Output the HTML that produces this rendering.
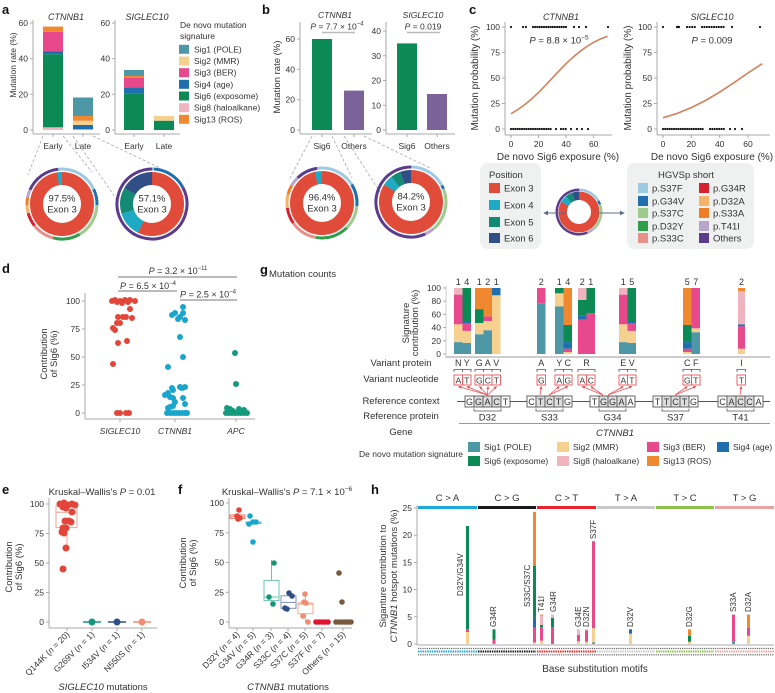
<!DOCTYPE html>
<html><head><meta charset="utf-8">
<style>
html,body{margin:0;padding:0;background:#fff;}
svg{display:block;}
text{font-family:"Liberation Sans",Arial,sans-serif;fill:#333;}
.pl{font-size:13px;font-weight:bold;fill:#111;}
.tk{font-size:8.5px;fill:#555;}
.ax{font-size:9.5px;fill:#333;}
.it{font-style:italic;}
.lg{font-size:8.5px;fill:#333;}
.ln{stroke:#aaa;stroke-width:1;fill:none;}
.dl{stroke:#aaa;stroke-width:0.8;stroke-dasharray:3 2;fill:none;}
.nb{font-size:8px;}
</style></head>
<body>
<svg width="775" height="693" viewBox="0 0 775 693" xmlns="http://www.w3.org/2000/svg">
<defs>
<marker id="ar" viewBox="0 0 6 6" refX="5" refY="3" markerWidth="4" markerHeight="4" orient="auto"><path d="M0,0 L6,3 L0,6 z" fill="#e8545a"/></marker>
<marker id="ab" viewBox="0 0 6 6" refX="5" refY="3" markerWidth="5" markerHeight="5" orient="auto"><path d="M0,0 L6,3 L0,6 z" fill="#5b6f8a"/></marker>
</defs>

<!-- ================= PANEL A ================= -->
<text class="pl" x="2" y="14">a</text>
<text class="it" x="66" y="20" font-size="9" text-anchor="middle">CTNNB1</text>
<text class="it" x="147" y="20" font-size="9" text-anchor="middle">SIGLEC10</text>
<text x="16" y="65" font-size="8.5" text-anchor="middle" transform="rotate(-90 16 65)">Mutation rate (%)</text>
<line class="ln" x1="33" y1="20" x2="33" y2="134"/>
<line class="ln" x1="33" y1="134" x2="100" y2="134"/>
<g class="ln"><line x1="30" y1="23" x2="33" y2="23"/><line x1="30" y1="58.7" x2="33" y2="58.7"/><line x1="30" y1="94.3" x2="33" y2="94.3"/><line x1="30" y1="130" x2="33" y2="130"/><line x1="53" y1="134" x2="53" y2="137"/><line x1="83" y1="134" x2="83" y2="137"/></g>
<g class="tk" text-anchor="end"><text x="28" y="26">60</text><text x="28" y="61.7">40</text><text x="28" y="97.3">20</text><text x="28" y="133">0</text></g>
<rect x="43" y="127.3" width="20" height="2.7" fill="#f0b4bf"/>
<rect x="43" y="54.2" width="20" height="73.1" fill="#0b8a56"/>
<rect x="43" y="51.5" width="20" height="2.7" fill="#1f6fae"/>
<rect x="43" y="31.9" width="20" height="19.6" fill="#e8488c"/>
<rect x="43" y="26.6" width="20" height="5.3" fill="#f0882f"/>
<rect x="73" y="125" width="20" height="4.5" fill="#1f6fae"/>
<rect x="73" y="120.7" width="20" height="4.3" fill="#f6d08f"/>
<rect x="73" y="116" width="20" height="4.7" fill="#f0882f"/>
<rect x="73" y="97.5" width="20" height="18.5" fill="#4e97a6"/>
<g class="tk" font-size="8.5" text-anchor="middle"><text x="53" y="149">Early</text><text x="83" y="149">Late</text></g>
<line class="ln" x1="115" y1="20" x2="115" y2="134"/>
<line class="ln" x1="115" y1="134" x2="180" y2="134"/>
<g class="ln"><line x1="112" y1="23" x2="115" y2="23"/><line x1="112" y1="58.7" x2="115" y2="58.7"/><line x1="112" y1="94.3" x2="115" y2="94.3"/><line x1="112" y1="130" x2="115" y2="130"/><line x1="134" y1="134" x2="134" y2="137"/><line x1="164" y1="134" x2="164" y2="137"/></g>
<g class="tk" text-anchor="end"><text x="110" y="26">60</text><text x="110" y="61.7">40</text><text x="110" y="97.3">20</text><text x="110" y="133">0</text></g>
<rect x="124" y="93.3" width="20" height="36.7" fill="#0b8a56"/>
<rect x="124" y="87.3" width="20" height="6" fill="#1f6fae"/>
<rect x="124" y="78" width="20" height="9.3" fill="#e8488c"/>
<rect x="124" y="76" width="20" height="2" fill="#f0882f"/>
<rect x="124" y="70" width="20" height="6" fill="#4e97a6"/>
<rect x="154" y="120.7" width="20" height="9.3" fill="#0b8a56"/>
<rect x="154" y="116" width="20" height="4.7" fill="#f6d08f"/>
<g class="tk" font-size="8.5" text-anchor="middle"><text x="134" y="149">Early</text><text x="164" y="149">Late</text></g>
<text class="lg" x="180" y="28">De novo mutation</text>
<text class="lg" x="180" y="39">signature</text>
<rect x="179" y="44.8" width="10" height="9" fill="#4e97a6"/><text class="lg" x="194" y="52.3">Sig1 (POLE)</text>
<rect x="179" y="56.5" width="10" height="9" fill="#f6d08f"/><text class="lg" x="194" y="64">Sig2 (MMR)</text>
<rect x="179" y="68.2" width="10" height="9" fill="#e8488c"/><text class="lg" x="194" y="75.7">Sig3 (BER)</text>
<rect x="179" y="79.8" width="10" height="9" fill="#1f6fae"/><text class="lg" x="194" y="87.3">Sig4 (age)</text>
<rect x="179" y="91.5" width="10" height="9" fill="#0b8a56"/><text class="lg" x="194" y="99">Sig6 (exposome)</text>
<rect x="179" y="103.2" width="10" height="9" fill="#f0b4bf"/><text class="lg" x="194" y="110.7">Sig8 (haloalkane)</text>
<rect x="179" y="114.8" width="10" height="9" fill="#f0882f"/><text class="lg" x="194" y="122.3">Sig13 (ROS)</text>
<line class="dl" x1="43" y1="136" x2="28" y2="175"/>
<line class="dl" x1="63" y1="136" x2="92" y2="172"/>
<line class="dl" x1="73" y1="136" x2="117" y2="200"/>
<line class="dl" x1="93" y1="136" x2="160" y2="168"/>
<!-- donut a left -->
<g fill="none">
<circle cx="62" cy="204" r="25.5" stroke="#e04b3a" stroke-width="13" stroke-dasharray="156.2 400" transform="rotate(-90 62 204)"/>
<circle cx="62" cy="204" r="25.5" stroke="#1eaac4" stroke-width="13" stroke-dasharray="4.0 400" transform="rotate(261 62 204)"/>
<g stroke-width="3">
<circle cx="62" cy="204" r="35" stroke="#9ecae1" stroke-dasharray="39.7 400" transform="rotate(-90 62 204)"/>
<circle cx="62" cy="204" r="35" stroke="#1f6fae" stroke-dasharray="16.5 400" transform="rotate(-25 62 204)"/>
<circle cx="62" cy="204" r="35" stroke="#9ccc8c" stroke-dasharray="35.4 400" transform="rotate(2 62 204)"/>
<circle cx="62" cy="204" r="35" stroke="#2e9e48" stroke-dasharray="27.5 400" transform="rotate(60 62 204)"/>
<circle cx="62" cy="204" r="35" stroke="#e8908a" stroke-dasharray="22.6 400" transform="rotate(105 62 204)"/>
<circle cx="62" cy="204" r="35" stroke="#d62230" stroke-dasharray="14.05 400" transform="rotate(142 62 204)"/>
<circle cx="62" cy="204" r="35" stroke="#f4b26b" stroke-dasharray="7.94 400" transform="rotate(165 62 204)"/>
<circle cx="62" cy="204" r="35" stroke="#ef7d28" stroke-dasharray="7.94 400" transform="rotate(178 62 204)"/>
<circle cx="62" cy="204" r="35" stroke="#b8a5cc" stroke-dasharray="7.94 400" transform="rotate(191 62 204)"/>
<circle cx="62" cy="204" r="35" stroke="#5b3b8c" stroke-dasharray="36.65 400" transform="rotate(204 62 204)"/>
<circle cx="62" cy="204" r="35" stroke="#9ecae1" stroke-dasharray="3.67 400" transform="rotate(264 62 204)"/>
</g></g>
<text x="62" y="201.5" font-size="9.5" text-anchor="middle">97.5%</text>
<text x="62" y="212.5" font-size="9.5" text-anchor="middle">Exon 3</text>
<!-- donut a right -->
<g fill="none">
<circle cx="152" cy="204" r="25.5" stroke="#e04b3a" stroke-width="13" stroke-dasharray="91.68 400" transform="rotate(-90 152 204)"/>
<circle cx="152" cy="204" r="25.5" stroke="#1eaac4" stroke-width="13" stroke-dasharray="20.47 400" transform="rotate(116 152 204)"/>
<circle cx="152" cy="204" r="25.5" stroke="#138a73" stroke-width="13" stroke-dasharray="21.36 400" transform="rotate(162 152 204)"/>
<circle cx="152" cy="204" r="25.5" stroke="#2f4f86" stroke-width="13" stroke-dasharray="26.7 400" transform="rotate(210 152 204)"/>
<g stroke-width="3">
<circle cx="152" cy="204" r="35" stroke="#9ecae1" stroke-dasharray="1.83 400" transform="rotate(-90 152 204)"/>
<circle cx="152" cy="204" r="35" stroke="#1f6fae" stroke-dasharray="36.04 400" transform="rotate(-87 152 204)"/>
<circle cx="152" cy="204" r="35" stroke="#5b3b8c" stroke-dasharray="182.04 400" transform="rotate(-28 152 204)"/>
</g></g>
<text x="152" y="201.5" font-size="9.5" text-anchor="middle">57.1%</text>
<text x="152" y="212.5" font-size="9.5" text-anchor="middle">Exon 3</text>

<!-- ================= PANEL B ================= -->
<text class="pl" x="262" y="14">b</text>
<text x="280" y="77" font-size="9.5" text-anchor="middle" transform="rotate(-90 280 77)">Mutation rate (%)</text>
<text class="it" x="335" y="18" font-size="8.5" text-anchor="middle">CTNNB1</text>
<text x="337" y="29.5" font-size="8.5" text-anchor="middle"><tspan font-style="italic">P</tspan> = 7.7 × 10<tspan dy="-4" font-size="6">−4</tspan></text>
<line x1="322" y1="32.5" x2="355" y2="32.5" stroke="#bbb" stroke-width="1.5"/>
<text class="it" x="423" y="18" font-size="8.5" text-anchor="middle">SIGLEC10</text>
<text x="423" y="29.5" font-size="8.5" text-anchor="middle"><tspan font-style="italic">P</tspan> = 0.019</text>
<line x1="407" y1="32.5" x2="440" y2="32.5" stroke="#bbb" stroke-width="1.5"/>
<line class="ln" x1="300" y1="22" x2="300" y2="134"/>
<line class="ln" x1="300" y1="134" x2="372" y2="134"/>
<g class="ln"><line x1="297" y1="39" x2="300" y2="39"/><line x1="297" y1="69.3" x2="300" y2="69.3"/><line x1="297" y1="99.7" x2="300" y2="99.7"/><line x1="297" y1="130" x2="300" y2="130"/><line x1="322" y1="134" x2="322" y2="137"/><line x1="354" y1="134" x2="354" y2="137"/></g>
<g class="tk" text-anchor="end" font-size="9"><text x="295" y="42">60</text><text x="295" y="72.3">40</text><text x="295" y="102.7">20</text><text x="295" y="133">0</text></g>
<rect x="312" y="39" width="20" height="91" fill="#0b8a56"/>
<rect x="344" y="90.6" width="20" height="39.4" fill="#7b639a"/>
<g class="tk" font-size="9" text-anchor="middle"><text x="322" y="149">Sig6</text><text x="354" y="149">Others</text></g>
<line class="ln" x1="386" y1="22" x2="386" y2="134"/>
<line class="ln" x1="386" y1="134" x2="455" y2="134"/>
<g class="ln"><line x1="383" y1="31" x2="386" y2="31"/><line x1="383" y1="55.75" x2="386" y2="55.75"/><line x1="383" y1="80.5" x2="386" y2="80.5"/><line x1="383" y1="105.25" x2="386" y2="105.25"/><line x1="383" y1="130" x2="386" y2="130"/><line x1="407" y1="134" x2="407" y2="137"/><line x1="437" y1="134" x2="437" y2="137"/></g>
<g class="tk" text-anchor="end" font-size="9"><text x="381" y="34">40</text><text x="381" y="58.75">30</text><text x="381" y="83.5">20</text><text x="381" y="108.25">10</text><text x="381" y="133">0</text></g>
<rect x="397" y="43.4" width="20" height="86.6" fill="#0b8a56"/>
<rect x="427" y="94" width="20" height="36" fill="#7b639a"/>
<g class="tk" font-size="9" text-anchor="middle"><text x="407" y="149">Sig6</text><text x="437" y="149">Others</text></g>
<line class="dl" x1="312" y1="136" x2="289" y2="180"/>
<line class="dl" x1="332" y1="136" x2="352" y2="178"/>
<line class="dl" x1="344" y1="136" x2="380" y2="192"/>
<line class="dl" x1="364" y1="136" x2="430" y2="168"/>
<!-- donut b left -->
<g fill="none">
<circle cx="322" cy="203" r="25.5" stroke="#e04b3a" stroke-width="13" stroke-dasharray="154.44 400" transform="rotate(-90 322 203)"/>
<circle cx="322" cy="203" r="25.5" stroke="#1eaac4" stroke-width="13" stroke-dasharray="5.79 400" transform="rotate(257 322 203)"/>
<g stroke-width="3">
<circle cx="322" cy="203" r="35" stroke="#9ecae1" stroke-dasharray="35.43 400" transform="rotate(-90 322 203)"/>
<circle cx="322" cy="203" r="35" stroke="#1f6fae" stroke-dasharray="22.6 400" transform="rotate(-32 322 203)"/>
<circle cx="322" cy="203" r="35" stroke="#9ccc8c" stroke-dasharray="24.43 400" transform="rotate(5 322 203)"/>
<circle cx="322" cy="203" r="35" stroke="#2e9e48" stroke-dasharray="33.6 400" transform="rotate(45 322 203)"/>
<circle cx="322" cy="203" r="35" stroke="#e8908a" stroke-dasharray="27.49 400" transform="rotate(100 322 203)"/>
<circle cx="322" cy="203" r="35" stroke="#d62230" stroke-dasharray="16.49 400" transform="rotate(145 322 203)"/>
<circle cx="322" cy="203" r="35" stroke="#f4b26b" stroke-dasharray="13.44 400" transform="rotate(172 322 203)"/>
<circle cx="322" cy="203" r="35" stroke="#ef7d28" stroke-dasharray="9.77 400" transform="rotate(194 322 203)"/>
<circle cx="322" cy="203" r="35" stroke="#b8a5cc" stroke-dasharray="9.77 400" transform="rotate(210 322 203)"/>
<circle cx="322" cy="203" r="35" stroke="#5b3b8c" stroke-dasharray="21.99 400" transform="rotate(226 322 203)"/>
<circle cx="322" cy="203" r="35" stroke="#9ecae1" stroke-dasharray="4.89 400" transform="rotate(262 322 203)"/>
</g></g>
<text x="322" y="200.5" font-size="9.5" text-anchor="middle">96.4%</text>
<text x="322" y="211.5" font-size="9.5" text-anchor="middle">Exon 3</text>
<!-- donut b right -->
<g fill="none">
<circle cx="411" cy="202" r="25.5" stroke="#e04b3a" stroke-width="13" stroke-dasharray="134.85 400" transform="rotate(-90 411 202)"/>
<circle cx="411" cy="202" r="25.5" stroke="#1eaac4" stroke-width="13" stroke-dasharray="8.46 400" transform="rotate(213 411 202)"/>
<circle cx="411" cy="202" r="25.5" stroke="#138a73" stroke-width="13" stroke-dasharray="8.01 400" transform="rotate(232 411 202)"/>
<circle cx="411" cy="202" r="25.5" stroke="#2f4f86" stroke-width="13" stroke-dasharray="8.9 400" transform="rotate(250 411 202)"/>
<g stroke-width="3">
<circle cx="411" cy="202" r="35" stroke="#9ecae1" stroke-dasharray="37.87 400" transform="rotate(-90 411 202)"/>
<circle cx="411" cy="202" r="35" stroke="#1f6fae" stroke-dasharray="3.67 400" transform="rotate(-28 411 202)"/>
<circle cx="411" cy="202" r="35" stroke="#9ccc8c" stroke-dasharray="43.98 400" transform="rotate(-22 411 202)"/>
<circle cx="411" cy="202" r="35" stroke="#b8a5cc" stroke-dasharray="9.77 400" transform="rotate(50 411 202)"/>
<circle cx="411" cy="202" r="35" stroke="#5b3b8c" stroke-dasharray="124.62 400" transform="rotate(66 411 202)"/>
</g></g>
<text x="411" y="199.5" font-size="9.5" text-anchor="middle">84.2%</text>
<text x="411" y="210.5" font-size="9.5" text-anchor="middle">Exon 3</text>

<!-- ================= PANEL C ================= -->
<text class="pl" x="469" y="14">c</text>
<text x="478" y="78" font-size="10" text-anchor="middle" transform="rotate(-90 478 78)">Mutation probability (%)</text>
<text class="it" x="561" y="20" font-size="9" text-anchor="middle">CTNNB1</text>
<text x="559" y="43.5" font-size="9.5" text-anchor="middle"><tspan font-style="italic">P</tspan> = 8.8 × 10<tspan dy="-4" font-size="6.5">−5</tspan></text>
<line class="ln" x1="505" y1="22" x2="505" y2="135"/>
<line class="ln" x1="505" y1="135" x2="612" y2="135"/>
<g class="ln"><line x1="502" y1="27" x2="505" y2="27"/><line x1="502" y1="52.5" x2="505" y2="52.5"/><line x1="502" y1="78" x2="505" y2="78"/><line x1="502" y1="103.5" x2="505" y2="103.5"/><line x1="502" y1="129" x2="505" y2="129"/>
<line x1="511" y1="135" x2="511" y2="138"/><line x1="538.6" y1="135" x2="538.6" y2="138"/><line x1="566.1" y1="135" x2="566.1" y2="138"/><line x1="593.7" y1="135" x2="593.7" y2="138"/></g>
<g class="tk" font-size="9" text-anchor="end"><text x="500" y="30">100</text><text x="500" y="55.5">75</text><text x="500" y="81">50</text><text x="500" y="106.5">25</text><text x="500" y="132">0</text></g>
<g class="tk" font-size="9" text-anchor="middle"><text x="511" y="147">0</text><text x="538.6" y="147">20</text><text x="566.1" y="147">40</text><text x="593.7" y="147">60</text></g>
<text x="558" y="160" font-size="10" text-anchor="middle">De novo Sig6 exposure (%)</text>
<g stroke="#111" stroke-width="2.2" stroke-linecap="round">
<line x1="511" y1="27" x2="511" y2="27"/><line x1="523" y1="27" x2="523" y2="27"/><line x1="526" y1="27" x2="526" y2="27"/>
<line x1="533" y1="27" x2="567" y2="27" stroke-dasharray="0 2.2"/>
<line x1="574" y1="27" x2="574" y2="27"/><line x1="579" y1="27" x2="579" y2="27"/><line x1="586" y1="27" x2="586" y2="27"/><line x1="608" y1="27" x2="608" y2="27"/>
<line x1="511" y1="129" x2="552" y2="129" stroke-dasharray="0 2.2"/>
<line x1="556" y1="129" x2="556" y2="129"/><line x1="561" y1="129" x2="568" y2="129" stroke-dasharray="0 2.4"/><line x1="571" y1="129" x2="571" y2="129"/><line x1="577" y1="129" x2="577" y2="129"/><line x1="582" y1="129" x2="582" y2="129"/><line x1="588" y1="129" x2="588" y2="129"/>
</g>
<polyline fill="none" stroke="#d4805a" stroke-width="1.6" points="511,113.7 517.9,109.5 524.8,104.6 531.7,98.8 538.6,92.4 545.5,85.3 552.3,78 559.2,70.7 566.1,63.7 573,57.2 579.9,51.5 586.8,46.5 593.7,42.3 600.6,38.9 607.5,36.2"/>
<text x="631" y="78" font-size="10" text-anchor="middle" transform="rotate(-90 631 78)">Mutation probability (%)</text>
<text class="it" x="712" y="20" font-size="9" text-anchor="middle">SIGLEC10</text>
<text x="712" y="43.5" font-size="9.5" text-anchor="middle"><tspan font-style="italic">P</tspan> = 0.009</text>
<line class="ln" x1="657" y1="22" x2="657" y2="135"/>
<line class="ln" x1="657" y1="135" x2="770" y2="135"/>
<g class="ln"><line x1="654" y1="27" x2="657" y2="27"/><line x1="654" y1="52.5" x2="657" y2="52.5"/><line x1="654" y1="78" x2="657" y2="78"/><line x1="654" y1="103.5" x2="657" y2="103.5"/><line x1="654" y1="129" x2="657" y2="129"/>
<line x1="663" y1="135" x2="663" y2="138"/><line x1="691.3" y1="135" x2="691.3" y2="138"/><line x1="719.7" y1="135" x2="719.7" y2="138"/><line x1="748" y1="135" x2="748" y2="138"/></g>
<g class="tk" font-size="9" text-anchor="end"><text x="652" y="30">100</text><text x="652" y="55.5">75</text><text x="652" y="81">50</text><text x="652" y="106.5">25</text><text x="652" y="132">0</text></g>
<g class="tk" font-size="9" text-anchor="middle"><text x="663" y="147">0</text><text x="691.3" y="147">20</text><text x="719.7" y="147">40</text><text x="748" y="147">60</text></g>
<text x="712" y="160" font-size="10" text-anchor="middle">De novo Sig6 exposure (%)</text>
<g stroke="#111" stroke-width="2.2" stroke-linecap="round">
<line x1="663" y1="27" x2="663" y2="27"/><line x1="677" y1="27" x2="679" y2="27"/><line x1="687" y1="27" x2="695" y2="27" stroke-dasharray="0 2.6"/>
<line x1="702" y1="27" x2="724" y2="27" stroke-dasharray="0 2.4"/><line x1="732" y1="27" x2="732" y2="27"/><line x1="760" y1="27" x2="760" y2="27"/>
<line x1="663" y1="129" x2="703" y2="129" stroke-dasharray="0 2.2"/>
<line x1="710" y1="129" x2="724" y2="129" stroke-dasharray="0 2.3"/><line x1="730" y1="129" x2="730" y2="129"/><line x1="735" y1="129" x2="735" y2="129"/><line x1="742" y1="129" x2="742" y2="129"/>
</g>
<polyline fill="none" stroke="#d4805a" stroke-width="1.6" points="663,117.8 677.2,113.4 691.3,107.6 705.5,100.5 719.7,92.1 733.9,82.7 748,73 762.2,63.7"/>
<rect x="480" y="163" width="61" height="86" rx="8" fill="#eef1f0"/>
<text x="489" y="178" font-size="9.5">Position</text>
<rect x="489" y="183" width="11" height="10" fill="#e04b3a"/><text x="504" y="191.5" font-size="9.5">Exon 3</text>
<rect x="489" y="200" width="11" height="10" fill="#1eaac4"/><text x="504" y="208.5" font-size="9.5">Exon 4</text>
<rect x="489" y="217" width="11" height="10" fill="#138a73"/><text x="504" y="225.5" font-size="9.5">Exon 5</text>
<rect x="489" y="233" width="11" height="10" fill="#2f4f86"/><text x="504" y="241.5" font-size="9.5">Exon 6</text>
<rect x="627" y="163" width="127" height="86" rx="8" fill="#eef1f0"/>
<text x="686" y="178" font-size="9.5" text-anchor="middle">HGVSp short</text>
<g font-size="9.5">
<rect x="638" y="183" width="10" height="10" fill="#9ecae1"/><text x="652" y="191.5">p.S37F</text>
<rect x="638" y="196" width="10" height="10" fill="#1f6fae"/><text x="652" y="204.5">p.G34V</text>
<rect x="638" y="208" width="10" height="10" fill="#9ccc8c"/><text x="652" y="216.5">p.S37C</text>
<rect x="638" y="221" width="10" height="10" fill="#2e9e48"/><text x="652" y="229.5">p.D32Y</text>
<rect x="638" y="233" width="10" height="10" fill="#e8908a"/><text x="652" y="241.5">p.S33C</text>
<rect x="699" y="183" width="10" height="10" fill="#d62230"/><text x="713" y="191.5">p.G34R</text>
<rect x="699" y="196" width="10" height="10" fill="#f4b26b"/><text x="713" y="204.5">p.D32A</text>
<rect x="699" y="208" width="10" height="10" fill="#ef7d28"/><text x="713" y="216.5">p.S33A</text>
<rect x="699" y="221" width="10" height="10" fill="#b8a5cc"/><text x="713" y="229.5">p.T41I</text>
<rect x="699" y="233" width="10" height="10" fill="#5b3b8c"/><text x="713" y="241.5">Others</text>
</g>
<g fill="none">
<circle cx="579" cy="212" r="16.25" stroke="#e04b3a" stroke-width="8.5" stroke-dasharray="85.09 200" transform="rotate(-90 579 212)"/>
<circle cx="579" cy="212" r="16.25" stroke="#1eaac4" stroke-width="8.5" stroke-dasharray="5.67 200" transform="rotate(210 579 212)"/>
<circle cx="579" cy="212" r="16.25" stroke="#138a73" stroke-width="8.5" stroke-dasharray="5.67 200" transform="rotate(230 579 212)"/>
<circle cx="579" cy="212" r="16.25" stroke="#2f4f86" stroke-width="8.5" stroke-dasharray="5.67 200" transform="rotate(250 579 212)"/>
<g stroke-width="2.5">
<circle cx="579" cy="212" r="22.25" stroke="#9ecae1" stroke-dasharray="23.3 200" transform="rotate(-90 579 212)"/>
<circle cx="579" cy="212" r="22.25" stroke="#1f6fae" stroke-dasharray="3.88 200" transform="rotate(-30 579 212)"/>
<circle cx="579" cy="212" r="22.25" stroke="#9ccc8c" stroke-dasharray="27.18 200" transform="rotate(-20 579 212)"/>
<circle cx="579" cy="212" r="22.25" stroke="#b8a5cc" stroke-dasharray="6.99 200" transform="rotate(50 579 212)"/>
<circle cx="579" cy="212" r="22.25" stroke="#5b3b8c" stroke-dasharray="78.44 200" transform="rotate(68 579 212)"/>
</g></g>
<line x1="567" y1="213" x2="544" y2="213" stroke="#5b6f8a" stroke-width="1" marker-end="url(#ab)"/>
<line x1="598" y1="213" x2="624" y2="213" stroke="#5b6f8a" stroke-width="1" marker-end="url(#ab)"/>

<!-- ================= PANEL D ================= -->
<text class="pl" x="2" y="273">d</text>
<text x="178" y="274" font-size="9" text-anchor="middle"><tspan font-style="italic">P</tspan> = 3.2 × 10<tspan dy="-4" font-size="6">−11</tspan></text>
<line x1="118" y1="277" x2="237" y2="277" stroke="#777" stroke-width="1"/>
<text x="148" y="289" font-size="9" text-anchor="middle"><tspan font-style="italic">P</tspan> = 6.5 × 10<tspan dy="-4" font-size="6">−4</tspan></text>
<line x1="118" y1="291" x2="177" y2="291" stroke="#777" stroke-width="1"/>
<text x="208" y="297.5" font-size="9" text-anchor="middle"><tspan font-style="italic">P</tspan> = 2.5 × 10<tspan dy="-4" font-size="6">−4</tspan></text>
<line x1="180" y1="300" x2="237" y2="300" stroke="#777" stroke-width="1"/>
<text x="47" y="354" font-size="9.5" text-anchor="middle" transform="rotate(-90 47 354)">Contribution</text>
<text x="57" y="354" font-size="9.5" text-anchor="middle" transform="rotate(-90 57 354)">of Sig6 (%)</text>
<line class="ln" x1="85" y1="293" x2="85" y2="419"/>
<line class="ln" x1="85" y1="419" x2="255" y2="419"/>
<g class="ln"><line x1="82" y1="301" x2="85" y2="301"/><line x1="82" y1="329" x2="85" y2="329"/><line x1="82" y1="357" x2="85" y2="357"/><line x1="82" y1="385" x2="85" y2="385"/><line x1="82" y1="413" x2="85" y2="413"/>
<line x1="120" y1="419" x2="120" y2="422"/><line x1="175" y1="419" x2="175" y2="422"/><line x1="236" y1="419" x2="236" y2="422"/></g>
<g class="tk" font-size="9" text-anchor="end"><text x="80" y="304">100</text><text x="80" y="332">75</text><text x="80" y="360">50</text><text x="80" y="388">25</text><text x="80" y="416">0</text></g>
<g class="tk it" font-size="8.5" text-anchor="middle"><text x="120" y="434">SIGLEC10</text><text x="175" y="434">CTNNB1</text><text x="236" y="434">APC</text></g>
<g fill="#e2463a">
<circle cx="112" cy="301" r="3"/><circle cx="115" cy="300" r="3"/><circle cx="120" cy="301" r="3"/><circle cx="125" cy="300" r="3"/><circle cx="130" cy="300" r="3"/><circle cx="135" cy="301" r="3"/><circle cx="117" cy="302" r="3"/><circle cx="128" cy="302" r="3"/><circle cx="122" cy="303" r="3"/><circle cx="130" cy="309" r="3"/><circle cx="118" cy="317" r="3"/><circle cx="123" cy="317" r="3"/><circle cx="126" cy="317" r="3"/><circle cx="132" cy="318" r="3"/><circle cx="117" cy="323" r="3"/><circle cx="120" cy="323" r="3"/><circle cx="113" cy="328" r="3"/><circle cx="115" cy="330" r="3"/><circle cx="127" cy="341" r="3"/><circle cx="118" cy="343" r="3"/><circle cx="113" cy="364" r="3"/><circle cx="117" cy="413" r="3"/><circle cx="120" cy="413" r="3"/><circle cx="126" cy="413" r="3"/><circle cx="129" cy="413" r="3"/>
</g>
<g fill="#1aa6cc">
<circle cx="183" cy="307" r="3"/><circle cx="175" cy="313" r="3"/><circle cx="172" cy="315" r="3"/><circle cx="183" cy="313" r="3"/><circle cx="180" cy="317" r="3"/><circle cx="178" cy="319" r="3"/><circle cx="185" cy="320" r="3"/><circle cx="180" cy="337" r="3"/><circle cx="183" cy="357" r="3"/><circle cx="168" cy="367" r="3"/><circle cx="180" cy="387" r="3"/><circle cx="182" cy="388" r="3"/><circle cx="172" cy="388" r="3"/><circle cx="173" cy="390" r="3"/><circle cx="185" cy="387" r="3"/><circle cx="165" cy="395" r="3"/><circle cx="168" cy="393" r="3"/><circle cx="170" cy="397" r="3"/><circle cx="173" cy="398" r="3"/><circle cx="175" cy="402" r="3"/><circle cx="183" cy="398" r="3"/><circle cx="173" cy="406" r="3"/><circle cx="185" cy="404" r="3"/><circle cx="170" cy="407" r="3"/><circle cx="168" cy="408" r="3"/><circle cx="167" cy="413" r="3"/><circle cx="170" cy="413" r="3"/><circle cx="173" cy="413" r="3"/><circle cx="176" cy="413" r="3"/><circle cx="179" cy="413" r="3"/><circle cx="182" cy="413" r="3"/><circle cx="185" cy="413" r="3"/><circle cx="187" cy="413" r="3"/>
</g>
<g fill="#159a7c">
<circle cx="235" cy="353" r="3"/><circle cx="236" cy="384" r="3"/><circle cx="227" cy="408" r="3"/><circle cx="230" cy="409" r="3"/><circle cx="239" cy="409" r="3"/><circle cx="244" cy="410" r="3"/><circle cx="233" cy="411" r="3"/><circle cx="226" cy="413" r="3"/><circle cx="229" cy="413" r="3"/><circle cx="232" cy="413" r="3"/><circle cx="235" cy="413" r="3"/><circle cx="238" cy="413" r="3"/><circle cx="241" cy="413" r="3"/><circle cx="244" cy="413" r="3"/><circle cx="247" cy="413" r="3"/>
</g>

<!-- ================= PANEL G ================= -->
<text class="pl" x="260" y="274">g</text>
<text x="269" y="277" font-size="9.5">Mutation counts</text>
<text x="409" y="323" font-size="9.5" text-anchor="middle" transform="rotate(-90 409 323)">Signature</text>
<text x="418" y="323" font-size="9.5" text-anchor="middle" transform="rotate(-90 418 323)">contribution (%)</text>
<line x1="446" y1="286" x2="446" y2="356" stroke="#ccc"/>
<line x1="445" y1="357" x2="770" y2="357" stroke="#ccc" stroke-width="2"/>
<g class="ln"><line x1="443" y1="288" x2="446" y2="288"/><line x1="443" y1="301.2" x2="446" y2="301.2"/><line x1="443" y1="314.4" x2="446" y2="314.4"/><line x1="443" y1="327.6" x2="446" y2="327.6"/><line x1="443" y1="340.8" x2="446" y2="340.8"/><line x1="443" y1="354" x2="446" y2="354"/></g>
<g class="tk" font-size="8" text-anchor="end"><text x="441" y="291">100</text><text x="441" y="304.2">80</text><text x="441" y="317.4">60</text><text x="441" y="330.6">40</text><text x="441" y="343.8">20</text><text x="441" y="357">0</text></g>
<g font-size="9" text-anchor="middle">
<text x="458.3" y="285">1</text><text x="466.8" y="285">4</text><text x="479.3" y="285">1</text><text x="487.8" y="285">2</text><text x="496.3" y="285">1</text>
<text x="541.3" y="285">2</text><text x="559.3" y="285">1</text><text x="567.8" y="285">4</text><text x="582.3" y="285">2</text><text x="590.8" y="285">1</text>
<text x="623.3" y="285">1</text><text x="631.8" y="285">5</text><text x="687.3" y="285">5</text><text x="695.8" y="285">7</text><text x="741.5" y="285">2</text>
</g>
<g>
<rect x="454" y="342.1" width="8.5" height="11.9" fill="#4e97a6"/><rect x="454" y="324.3" width="8.5" height="17.8" fill="#f6d08f"/><rect x="454" y="294.6" width="8.5" height="29.7" fill="#e8488c"/><rect x="454" y="288" width="8.5" height="6.6" fill="#f0b4bf"/>
<rect x="462.5" y="342.8" width="8.5" height="11.2" fill="#4e97a6"/><rect x="462.5" y="330.9" width="8.5" height="11.9" fill="#f6d08f"/><rect x="462.5" y="323" width="8.5" height="7.9" fill="#e8488c"/><rect x="462.5" y="321" width="8.5" height="2" fill="#1f6fae"/><rect x="462.5" y="288" width="8.5" height="33" fill="#0b8a56"/>
<rect x="475" y="334.2" width="8.5" height="19.8" fill="#4e97a6"/><rect x="475" y="323" width="8.5" height="11.2" fill="#f6d08f"/><rect x="475" y="309.1" width="8.5" height="13.9" fill="#0b8a56"/><rect x="475" y="288" width="8.5" height="21.1" fill="#f0882f"/>
<rect x="483.5" y="330.2" width="8.5" height="23.8" fill="#4e97a6"/><rect x="483.5" y="321" width="8.5" height="9.2" fill="#f6d08f"/><rect x="483.5" y="316.4" width="8.5" height="4.6" fill="#e8488c"/><rect x="483.5" y="288" width="8.5" height="28.4" fill="#f0882f"/>
<rect x="492" y="295.3" width="8.5" height="58.7" fill="#f6d08f"/><rect x="492" y="288" width="8.5" height="7.3" fill="#1f6fae"/>
<rect x="537" y="303.2" width="8.5" height="50.8" fill="#4e97a6"/><rect x="537" y="288" width="8.5" height="15.2" fill="#e8488c"/>
<rect x="555" y="306.5" width="8.5" height="47.5" fill="#4e97a6"/><rect x="555" y="293.3" width="8.5" height="13.2" fill="#f6d08f"/><rect x="555" y="288" width="8.5" height="5.3" fill="#0b8a56"/>
<rect x="563.5" y="352" width="8.5" height="2" fill="#f6d08f"/><rect x="563.5" y="348.7" width="8.5" height="3.3" fill="#e8488c"/><rect x="563.5" y="342.1" width="8.5" height="6.6" fill="#1f6fae"/><rect x="563.5" y="325" width="8.5" height="17.1" fill="#0b8a56"/><rect x="563.5" y="288" width="8.5" height="37" fill="#f0882f"/>
<rect x="578" y="319.7" width="8.5" height="34.3" fill="#e8488c"/><rect x="578" y="315.7" width="8.5" height="4" fill="#1f6fae"/><rect x="578" y="299.9" width="8.5" height="15.8" fill="#0b8a56"/><rect x="578" y="288" width="8.5" height="11.9" fill="#f0b4bf"/>
<rect x="586.5" y="313.1" width="8.5" height="40.9" fill="#e8488c"/><rect x="586.5" y="288" width="8.5" height="25.1" fill="#0b8a56"/>
<rect x="619" y="342.1" width="8.5" height="11.9" fill="#4e97a6"/><rect x="619" y="324.3" width="8.5" height="17.8" fill="#f6d08f"/><rect x="619" y="294.6" width="8.5" height="29.7" fill="#e8488c"/><rect x="619" y="288" width="8.5" height="6.6" fill="#f0b4bf"/>
<rect x="627.5" y="342.8" width="8.5" height="11.2" fill="#4e97a6"/><rect x="627.5" y="330.9" width="8.5" height="11.9" fill="#f6d08f"/><rect x="627.5" y="323" width="8.5" height="7.9" fill="#e8488c"/><rect x="627.5" y="321" width="8.5" height="2" fill="#1f6fae"/><rect x="627.5" y="288" width="8.5" height="33" fill="#0b8a56"/>
<rect x="683" y="352" width="8.5" height="2" fill="#f6d08f"/><rect x="683" y="348.7" width="8.5" height="3.3" fill="#e8488c"/><rect x="683" y="342.1" width="8.5" height="6.6" fill="#1f6fae"/><rect x="683" y="325" width="8.5" height="17.1" fill="#0b8a56"/><rect x="683" y="288" width="8.5" height="37" fill="#f0882f"/>
<rect x="691.5" y="332.2" width="8.5" height="21.8" fill="#4e97a6"/><rect x="691.5" y="328.3" width="8.5" height="3.9" fill="#f6d08f"/><rect x="691.5" y="288" width="8.5" height="40.3" fill="#e8488c"/>
<rect x="738" y="348.7" width="7" height="5.3" fill="#f6d08f"/><rect x="738" y="326.3" width="7" height="22.4" fill="#e8488c"/><rect x="738" y="324.3" width="7" height="2" fill="#1f6fae"/><rect x="738" y="291.3" width="7" height="33" fill="#f0b4bf"/><rect x="738" y="288" width="7" height="3.3" fill="#f0882f"/>
</g>
<g font-size="9.5" text-anchor="middle">
<text x="401" y="366">Variant protein</text>
<text x="401" y="382">Variant nucleotide</text>
<text x="401" y="404">Reference context</text>
<text x="401" y="419">Reference protein</text>
<text x="401" y="435">Gene</text>
</g>
<g font-size="9" text-anchor="middle">
<text x="458.3" y="366">N</text><text x="466.8" y="366">Y</text><text x="479.3" y="366">G</text><text x="487.8" y="366">A</text><text x="496.3" y="366">V</text>
<text x="541.3" y="366">A</text><text x="559.3" y="366">Y</text><text x="567.8" y="366">C</text><text x="586.5" y="366">R</text>
<text x="623.3" y="366">E</text><text x="631.8" y="366">V</text><text x="687.3" y="366">C</text><text x="695.8" y="366">F</text><text x="741.5" y="366">I</text>
</g>
<g stroke="#555" stroke-width="0.8" fill="none">
<path d="M454 372 V369.5 H471 V372 M462.5 369.5 V372"/>
<path d="M475 372 V369.5 H500.5 V372 M483.5 369.5 V372 M492 369.5 V372"/>
<path d="M537 372 V369.5 H545.5 V372"/>
<path d="M555 372 V369.5 H572 V372 M563.5 369.5 V372"/>
<path d="M578 372 V369.5 H595 V372"/>
<path d="M619 372 V369.5 H636 V372 M627.5 369.5 V372"/>
<path d="M683 372 V369.5 H700 V372 M691.5 369.5 V372"/>
<path d="M737 372 V369.5 H745.5 V372"/>
</g>
<g fill="#fff" stroke="#e8545a" stroke-width="0.9">
<rect x="454" y="375" width="8.5" height="10"/><rect x="462.5" y="375" width="8.5" height="10"/>
<rect x="475" y="375" width="8.5" height="10"/><rect x="483.5" y="375" width="8.5" height="10"/><rect x="492" y="375" width="8.5" height="10"/>
<rect x="537" y="375" width="8.5" height="10"/>
<rect x="555" y="375" width="8.5" height="10"/><rect x="563.5" y="375" width="8.5" height="10"/>
<rect x="578" y="375" width="8.5" height="10"/><rect x="586.5" y="375" width="8.5" height="10"/>
<rect x="619" y="375" width="8.5" height="10"/><rect x="627.5" y="375" width="8.5" height="10"/>
<rect x="683" y="375" width="8.5" height="10"/><rect x="691.5" y="375" width="8.5" height="10"/>
<rect x="737" y="375" width="8.5" height="10"/>
</g>
<g font-size="8.5" text-anchor="middle">
<text x="458.3" y="383.5" fill="#5cb85c">A</text><text x="466.8" y="383.5" fill="#e05050">T</text>
<text x="479.3" y="383.5" fill="#444">G</text><text x="487.8" y="383.5" fill="#4a74c8">C</text><text x="496.3" y="383.5" fill="#e05050">T</text>
<text x="541.3" y="383.5" fill="#444">G</text>
<text x="559.3" y="383.5" fill="#5cb85c">A</text><text x="567.8" y="383.5" fill="#444">G</text>
<text x="582.3" y="383.5" fill="#5cb85c">A</text><text x="590.8" y="383.5" fill="#4a74c8">C</text>
<text x="623.3" y="383.5" fill="#5cb85c">A</text><text x="631.8" y="383.5" fill="#e05050">T</text>
<text x="687.3" y="383.5" fill="#444">G</text><text x="695.8" y="383.5" fill="#e05050">T</text>
<text x="741.3" y="383.5" fill="#e05050">T</text>
</g>
<g stroke="#e8545a" stroke-width="0.8" marker-end="url(#ar)">
<line x1="487.5" y1="395" x2="458.5" y2="386.5"/><line x1="487.5" y1="395" x2="467" y2="386.5"/><line x1="487.5" y1="395" x2="479.5" y2="386.5"/><line x1="487.5" y1="395" x2="488" y2="386.5"/><line x1="487.5" y1="395" x2="496.5" y2="386.5"/>
<line x1="540" y1="395" x2="541.3" y2="386.5"/><line x1="549" y1="395" x2="559.3" y2="386.5"/><line x1="549" y1="395" x2="567.8" y2="386.5"/>
<line x1="603" y1="395" x2="582.3" y2="386.5"/><line x1="603" y1="395" x2="590.8" y2="386.5"/><line x1="608" y1="395" x2="623.3" y2="386.5"/><line x1="608" y1="395" x2="631.8" y2="386.5"/>
<line x1="675" y1="395" x2="687.3" y2="386.5"/><line x1="675" y1="395" x2="695.8" y2="386.5"/>
<line x1="740" y1="395" x2="741.3" y2="386.5"/>
</g>
<line x1="457" y1="401.5" x2="770" y2="401.5" stroke="#555" stroke-width="1"/>
<g stroke="#555" stroke-width="0.9">
<rect x="465" y="396" width="9" height="11" fill="#fff"/><rect x="474" y="396" width="9" height="11" fill="#ddd"/><rect x="483" y="396" width="9" height="11" fill="#ddd"/><rect x="492" y="396" width="9" height="11" fill="#ddd"/><rect x="501" y="396" width="9" height="11" fill="#fff"/>
<rect x="527" y="396" width="9" height="11" fill="#fff"/><rect x="536" y="396" width="9" height="11" fill="#ddd"/><rect x="545" y="396" width="9" height="11" fill="#ddd"/><rect x="554" y="396" width="9" height="11" fill="#ddd"/><rect x="563" y="396" width="9" height="11" fill="#fff"/>
<rect x="590" y="396" width="9" height="11" fill="#fff"/><rect x="599" y="396" width="9" height="11" fill="#ddd"/><rect x="608" y="396" width="9" height="11" fill="#ddd"/><rect x="617" y="396" width="9" height="11" fill="#ddd"/><rect x="626" y="396" width="9" height="11" fill="#fff"/>
<rect x="653" y="396" width="9" height="11" fill="#fff"/><rect x="662" y="396" width="9" height="11" fill="#ddd"/><rect x="671" y="396" width="9" height="11" fill="#ddd"/><rect x="680" y="396" width="9" height="11" fill="#ddd"/><rect x="689" y="396" width="9" height="11" fill="#fff"/>
<rect x="718" y="396" width="9" height="11" fill="#fff"/><rect x="727" y="396" width="9" height="11" fill="#ddd"/><rect x="736" y="396" width="9" height="11" fill="#ddd"/><rect x="745" y="396" width="9" height="11" fill="#ddd"/><rect x="754" y="396" width="9" height="11" fill="#fff"/>
</g>
<g font-size="9" text-anchor="middle">
<text x="469.5" y="405" fill="#444">G</text><text x="478.5" y="405" fill="#444">G</text><text x="487.5" y="405" fill="#5cb85c">A</text><text x="496.5" y="405" fill="#4a74c8">C</text><text x="505.5" y="405" fill="#e05050">T</text>
<text x="531.5" y="405" fill="#4a74c8">C</text><text x="540.5" y="405" fill="#e05050">T</text><text x="549.5" y="405" fill="#4a74c8">C</text><text x="558.5" y="405" fill="#e05050">T</text><text x="567.5" y="405" fill="#444">G</text>
<text x="594.5" y="405" fill="#e05050">T</text><text x="603.5" y="405" fill="#444">G</text><text x="612.5" y="405" fill="#444">G</text><text x="621.5" y="405" fill="#5cb85c">A</text><text x="630.5" y="405" fill="#5cb85c">A</text>
<text x="657.5" y="405" fill="#e05050">T</text><text x="666.5" y="405" fill="#e05050">T</text><text x="675.5" y="405" fill="#4a74c8">C</text><text x="684.5" y="405" fill="#e05050">T</text><text x="693.5" y="405" fill="#444">G</text>
<text x="722.5" y="405" fill="#4a74c8">C</text><text x="731.5" y="405" fill="#5cb85c">A</text><text x="740.5" y="405" fill="#4a74c8">C</text><text x="749.5" y="405" fill="#4a74c8">C</text><text x="758.5" y="405" fill="#5cb85c">A</text>
</g>
<g stroke="#555" stroke-width="0.8" fill="none">
<path d="M474 408.5 V411 H501 V408.5"/><path d="M536 408.5 V411 H563 V408.5"/><path d="M599 408.5 V411 H626 V408.5"/><path d="M662 408.5 V411 H689 V408.5"/><path d="M727 408.5 V411 H754 V408.5"/>
</g>
<g font-size="9.5" text-anchor="middle">
<text x="487.5" y="420.5">D32</text><text x="549.5" y="420.5">S33</text><text x="612.5" y="420.5">G34</text><text x="675.5" y="420.5">S37</text><text x="740.5" y="420.5">T41</text>
</g>
<line x1="459" y1="423.5" x2="770" y2="423.5" stroke="#999" stroke-width="1"/>
<text class="it" x="615" y="436" font-size="9.5" text-anchor="middle">CTNNB1</text>
<text x="463" y="457" font-size="8.5" text-anchor="end">De novo mutation signature</text>
<g font-size="8.5">
<rect x="468" y="442" width="12" height="10" fill="#4e97a6"/><text x="484" y="450">Sig1 (POLE)</text>
<rect x="557" y="442" width="12" height="10" fill="#f6d08f"/><text x="573" y="450">Sig2 (MMR)</text>
<rect x="647" y="442" width="12" height="10" fill="#e8488c"/><text x="663" y="450">Sig3 (BER)</text>
<rect x="717" y="442" width="12" height="10" fill="#1f6fae"/><text x="733" y="450">Sig4 (age)</text>
<rect x="468" y="456" width="12" height="10" fill="#0b8a56"/><text x="484" y="464">Sig6 (exposome)</text>
<rect x="557" y="456" width="12" height="10" fill="#f0b4bf"/><text x="573" y="464">Sig8 (haloalkane)</text>
<rect x="647" y="456" width="12" height="10" fill="#f0882f"/><text x="663" y="464">Sig13 (ROS)</text>
</g>

<!-- ================= PANEL E ================= -->
<text class="pl" x="2" y="494">e</text>
<text x="102" y="495" font-size="9.5" text-anchor="middle">Kruskal–Wallis's <tspan font-style="italic">P</tspan> = 0.01</text>
<text x="12" y="567" font-size="9.5" text-anchor="middle" transform="rotate(-90 12 567)">Contribution</text>
<text x="22" y="567" font-size="9.5" text-anchor="middle" transform="rotate(-90 22 567)">of Sig6 (%)</text>
<line class="ln" x1="49" y1="498" x2="49" y2="628"/>
<line class="ln" x1="49" y1="628" x2="157" y2="628"/>
<g class="ln"><line x1="46" y1="504" x2="49" y2="504"/><line x1="46" y1="533.5" x2="49" y2="533.5"/><line x1="46" y1="563" x2="49" y2="563"/><line x1="46" y1="592.5" x2="49" y2="592.5"/><line x1="46" y1="622" x2="49" y2="622"/>
<line x1="67" y1="628" x2="67" y2="631"/><line x1="92" y1="628" x2="92" y2="631"/><line x1="117" y1="628" x2="117" y2="631"/><line x1="142" y1="628" x2="142" y2="631"/></g>
<g class="tk" font-size="9" text-anchor="end"><text x="44" y="507">100</text><text x="44" y="536.5">75</text><text x="44" y="566">50</text><text x="44" y="595.5">25</text><text x="44" y="625">0</text></g>
<g class="tk" font-size="8" text-anchor="end">
<text x="70" y="635" transform="rotate(-45 70 635)">Q144K (<tspan font-style="italic">n</tspan> = 20)</text>
<text x="95" y="635" transform="rotate(-45 95 635)">G269V (<tspan font-style="italic">n</tspan> = 1)</text>
<text x="120" y="635" transform="rotate(-45 120 635)">I534V (<tspan font-style="italic">n</tspan> = 1)</text>
<text x="145" y="635" transform="rotate(-45 145 635)">N550S (<tspan font-style="italic">n</tspan> = 1)</text>
</g>
<text x="103" y="690" font-size="9.5" text-anchor="middle"><tspan font-style="italic">SIGLEC10</tspan> mutations</text>
<g stroke="#f4a090" stroke-width="1" fill="none">
<line x1="67" y1="504" x2="67" y2="505.8"/><line x1="67" y1="527.6" x2="67" y2="549"/>
<rect x="56" y="505.8" width="21" height="21.8"/><line x1="56" y1="512.3" x2="77" y2="512.3"/>
</g>
<g fill="#e2463a">
<circle cx="60" cy="504" r="3.5"/><circle cx="64" cy="503" r="3.5"/><circle cx="68" cy="505" r="3.5"/><circle cx="72" cy="504" r="3.5"/><circle cx="75" cy="505" r="3.5"/><circle cx="63" cy="507" r="3.5"/><circle cx="66" cy="508" r="3.5"/><circle cx="72" cy="512" r="3.5"/><circle cx="65" cy="521" r="3.5"/><circle cx="69" cy="521" r="3.5"/><circle cx="71" cy="522" r="3.5"/><circle cx="63" cy="528" r="3.5"/><circle cx="66" cy="528" r="3.5"/><circle cx="62" cy="532" r="3.5"/><circle cx="64" cy="533" r="3.5"/><circle cx="66" cy="548" r="3.5"/><circle cx="63" cy="569" r="3.5"/>
</g>
<line x1="83" y1="622" x2="101" y2="622" stroke="#15967a" stroke-width="1.5"/><circle cx="92" cy="622" r="3.5" fill="#15967a"/>
<line x1="108" y1="622" x2="126" y2="622" stroke="#2f4f86" stroke-width="1.5"/><circle cx="117" cy="622" r="3.5" fill="#2f4f86"/>
<line x1="133" y1="622" x2="151" y2="622" stroke="#f08c74" stroke-width="1.5"/><circle cx="142" cy="622" r="3.5" fill="#f08c74"/>

<!-- ================= PANEL F ================= -->
<text class="pl" x="178" y="494">f</text>
<text x="287" y="495" font-size="9.5" text-anchor="middle">Kruskal–Wallis's <tspan font-style="italic">P</tspan> = 7.1 × 10<tspan dy="-4" font-size="6.5">−6</tspan></text>
<text x="186" y="563" font-size="9.5" text-anchor="middle" transform="rotate(-90 186 563)">Contribution</text>
<text x="196" y="563" font-size="9.5" text-anchor="middle" transform="rotate(-90 196 563)">of Sig6 (%)</text>
<line class="ln" x1="229" y1="498" x2="229" y2="628"/>
<line class="ln" x1="229" y1="628" x2="352" y2="628"/>
<g class="ln"><line x1="226" y1="503" x2="229" y2="503"/><line x1="226" y1="532.8" x2="229" y2="532.8"/><line x1="226" y1="562.5" x2="229" y2="562.5"/><line x1="226" y1="592.3" x2="229" y2="592.3"/><line x1="226" y1="622" x2="229" y2="622"/>
<line x1="237" y1="628" x2="237" y2="631"/><line x1="253" y1="628" x2="253" y2="631"/><line x1="271" y1="628" x2="271" y2="631"/><line x1="288" y1="628" x2="288" y2="631"/><line x1="305" y1="628" x2="305" y2="631"/><line x1="322" y1="628" x2="322" y2="631"/><line x1="343" y1="628" x2="343" y2="631"/></g>
<g class="tk" font-size="9" text-anchor="end"><text x="224" y="506">100</text><text x="224" y="535.8">75</text><text x="224" y="565.5">50</text><text x="224" y="595.3">25</text><text x="224" y="625">0</text></g>
<g class="tk" font-size="8" text-anchor="end">
<text x="240" y="635" transform="rotate(-45 240 635)">D32Y (<tspan font-style="italic">n</tspan> = 4)</text>
<text x="256" y="635" transform="rotate(-45 256 635)">G34V (<tspan font-style="italic">n</tspan> = 5)</text>
<text x="274" y="635" transform="rotate(-45 274 635)">G34R (<tspan font-style="italic">n</tspan> = 3)</text>
<text x="291" y="635" transform="rotate(-45 291 635)">S33C (<tspan font-style="italic">n</tspan> = 4)</text>
<text x="308" y="635" transform="rotate(-45 308 635)">S37C (<tspan font-style="italic">n</tspan> = 5)</text>
<text x="325" y="635" transform="rotate(-45 325 635)">S37F (<tspan font-style="italic">n</tspan> = 7)</text>
<text x="346" y="635" transform="rotate(-45 346 635)">Others (<tspan font-style="italic">n</tspan> = 15)</text>
</g>
<text x="288" y="690" font-size="9.5" text-anchor="middle"><tspan font-style="italic">CTNNB1</tspan> mutations</text>
<g fill="none" stroke-width="1">
<rect x="230" y="514.9" width="15" height="3.6" stroke="#f08070"/><line x1="230" y1="516.7" x2="245" y2="516.7" stroke="#f08070"/>
<rect x="246" y="522" width="15" height="1.5" stroke="#4cc0e0"/><line x1="246" y1="523.2" x2="261" y2="523.2" stroke="#4cc0e0"/>
<rect x="264" y="580.4" width="15" height="20.2" stroke="#6cc4b0"/><line x1="264" y1="597" x2="279" y2="597" stroke="#6cc4b0"/><line x1="271.5" y1="560" x2="271.5" y2="580.4" stroke="#6cc4b0"/><line x1="271.5" y1="600.6" x2="271.5" y2="604" stroke="#6cc4b0"/>
<rect x="281" y="595.8" width="15" height="12.5" stroke="#8090c0"/><line x1="281" y1="602.4" x2="296" y2="602.4" stroke="#8090c0"/>
<rect x="298" y="603" width="15" height="10.7" stroke="#f4a890"/><line x1="298" y1="604.2" x2="313" y2="604.2" stroke="#f4a890"/><line x1="305.5" y1="594.6" x2="305.5" y2="603" stroke="#f4a890"/><line x1="305.5" y1="613.7" x2="305.5" y2="622" stroke="#f4a890"/>
</g>
<line x1="315" y1="622" x2="330" y2="622" stroke="#e0142f" stroke-width="1.5"/>
<line x1="334" y1="622" x2="353" y2="622" stroke="#7a5a3c" stroke-width="1.5"/>
<g fill="#e2463a"><circle cx="239" cy="510" r="2.8"/><circle cx="237" cy="516" r="2.8"/><circle cx="240" cy="518" r="2.8"/><circle cx="238" cy="519" r="2.8"/></g>
<g fill="#1aa6cc"><circle cx="250" cy="516" r="2.8"/><circle cx="249" cy="524" r="2.8"/><circle cx="253" cy="522" r="2.8"/><circle cx="256" cy="522" r="2.8"/><circle cx="253" cy="542" r="2.8"/></g>
<g fill="#15967a"><circle cx="274" cy="563" r="2.8"/><circle cx="269" cy="597" r="2.8"/><circle cx="273" cy="604" r="2.8"/></g>
<g fill="#2f4f86"><circle cx="289" cy="593" r="2.8"/><circle cx="292" cy="596" r="2.8"/><circle cx="285" cy="608" r="2.8"/><circle cx="287" cy="609" r="2.8"/></g>
<g fill="#f08c74"><circle cx="305" cy="594" r="2.8"/><circle cx="304" cy="602" r="2.8"/><circle cx="306" cy="603" r="2.8"/><circle cx="303" cy="616" r="2.8"/><circle cx="308" cy="622" r="2.8"/></g>
<g fill="#e0142f"><circle cx="316" cy="622" r="2.8"/><circle cx="319" cy="622" r="2.8"/><circle cx="322" cy="622" r="2.8"/><circle cx="325" cy="622" r="2.8"/><circle cx="328" cy="622" r="2.8"/></g>
<g fill="#7a5a3c"><circle cx="339" cy="573" r="2.8"/><circle cx="342" cy="602" r="2.8"/><circle cx="336" cy="622" r="2.8"/><circle cx="339" cy="622" r="2.8"/><circle cx="342" cy="622" r="2.8"/><circle cx="345" cy="622" r="2.8"/><circle cx="348" cy="622" r="2.8"/><circle cx="351" cy="622" r="2.8"/></g>

<!-- ================= PANEL H ================= -->
<text class="pl" x="371" y="494">h</text>
<text x="386" y="576" font-size="9.5" text-anchor="middle" transform="rotate(-90 386 576)">Siganture contribution to</text>
<text x="397" y="576" font-size="9.5" text-anchor="middle" transform="rotate(-90 397 576)"><tspan font-style="italic">CTNNB1</tspan> hotspot mutations (%)</text>
<line class="ln" x1="417" y1="505" x2="417" y2="645"/>
<line class="ln" x1="417" y1="645" x2="774" y2="645"/>
<g class="ln"><line x1="414" y1="508" x2="417" y2="508"/><line x1="414" y1="535.2" x2="417" y2="535.2"/><line x1="414" y1="562.4" x2="417" y2="562.4"/><line x1="414" y1="589.6" x2="417" y2="589.6"/><line x1="414" y1="616.8" x2="417" y2="616.8"/><line x1="414" y1="644" x2="417" y2="644"/></g>
<g class="tk" font-size="9" text-anchor="end"><text x="412" y="511">25</text><text x="412" y="538.2">20</text><text x="412" y="565.4">15</text><text x="412" y="592.6">10</text><text x="412" y="619.8">5</text><text x="412" y="647">0</text></g>
<rect x="418" y="506" width="59" height="3" fill="#1ba9e0"/>
<rect x="478" y="506" width="58" height="3" fill="#1a1a1a"/>
<rect x="537" y="506" width="59" height="3" fill="#e8252e"/>
<rect x="597" y="506" width="58" height="3" fill="#c8c8c8"/>
<rect x="656" y="506" width="58" height="3" fill="#8bc34a"/>
<rect x="715" y="506" width="59" height="3" fill="#e8a5a5"/>
<g font-size="9.5" text-anchor="middle">
<text x="447.5" y="501">C &gt; A</text><text x="507" y="501">C &gt; G</text><text x="566.5" y="501">C &gt; T</text><text x="626" y="501">T &gt; A</text><text x="685" y="501">T &gt; C</text><text x="744.5" y="501">T &gt; G</text>
</g>
<rect x="466" y="632" width="3" height="12" fill="#f6d08f"/><rect x="466" y="629.3" width="3" height="2.7" fill="#e8488c"/><rect x="466" y="526" width="3" height="103.3" fill="#0b8a56"/>
<rect x="492.5" y="639.6" width="3" height="4.4" fill="#e8488c"/><rect x="492.5" y="629.3" width="3" height="10.3" fill="#0b8a56"/>
<rect x="533" y="642.4" width="3" height="1.6" fill="#f6d08f"/><rect x="533" y="627.7" width="3" height="14.7" fill="#e8488c"/><rect x="533" y="617.3" width="3" height="10.4" fill="#1f6fae"/><rect x="533" y="565.7" width="3" height="51.6" fill="#0b8a56"/><rect x="533" y="511.8" width="3" height="53.9" fill="#f0882f"/>
<rect x="540" y="640.7" width="3" height="3.3" fill="#f6d08f"/><rect x="540" y="627.1" width="3" height="13.6" fill="#e8488c"/><rect x="540" y="625" width="3" height="2.1" fill="#0b8a56"/><rect x="540" y="615.7" width="3" height="9.3" fill="#f0b4bf"/><rect x="540" y="614.6" width="3" height="1.1" fill="#f0882f"/>
<rect x="551" y="627.1" width="3" height="16.9" fill="#e8488c"/><rect x="551" y="617.9" width="3" height="9.2" fill="#0b8a56"/><rect x="551" y="614.6" width="3" height="3.3" fill="#f0b4bf"/>
<rect x="577" y="641.3" width="3" height="2.7" fill="#f6d08f"/><rect x="577" y="634.8" width="3" height="6.5" fill="#e8488c"/><rect x="577" y="629.3" width="3" height="5.5" fill="#f0b4bf"/>
<rect x="585" y="641.8" width="3" height="2.2" fill="#f6d08f"/><rect x="585" y="630.4" width="3" height="11.4" fill="#e8488c"/><rect x="585" y="629.3" width="3" height="1.1" fill="#f0b4bf"/>
<rect x="592" y="642.4" width="3" height="1.6" fill="#4e97a6"/><rect x="592" y="628.2" width="3" height="14.2" fill="#f6d08f"/><rect x="592" y="541.2" width="3" height="87" fill="#e8488c"/>
<rect x="629" y="633.7" width="3" height="10.3" fill="#f6d08f"/><rect x="629" y="629.3" width="3" height="4.4" fill="#1f6fae"/>
<rect x="688" y="641.8" width="3" height="2.2" fill="#f6d08f"/><rect x="688" y="635.8" width="3" height="6" fill="#0b8a56"/><rect x="688" y="629.3" width="3" height="6.5" fill="#f0882f"/>
<rect x="732" y="641.8" width="3" height="2.2" fill="#4e97a6"/><rect x="732" y="614.6" width="3" height="27.2" fill="#e8488c"/>
<rect x="747" y="635.8" width="3" height="8.2" fill="#f6d08f"/><rect x="747" y="627.7" width="3" height="8.1" fill="#e8488c"/><rect x="747" y="614.6" width="3" height="13.1" fill="#f0882f"/>
<g font-size="8" fill="#333">
<text x="463" y="596" transform="rotate(-90 463 596)">D32Y/G34V</text>
<text x="496" y="627" transform="rotate(-90 496 627)">G34R</text>
<text x="530" y="607" transform="rotate(-90 530 607)">S33C/S37C</text>
<text x="544" y="612" transform="rotate(-90 544 612)">T41I</text>
<text x="556" y="612" transform="rotate(-90 556 612)">G34R</text>
<text x="581" y="627" transform="rotate(-90 581 627)">G34E</text>
<text x="589" y="627" transform="rotate(-90 589 627)">D32N</text>
<text x="596" y="539" transform="rotate(-90 596 539)">S37F</text>
<text x="633" y="627" transform="rotate(-90 633 627)">D32V</text>
<text x="692" y="627" transform="rotate(-90 692 627)">D32G</text>
<text x="736" y="612" transform="rotate(-90 736 612)">S33A</text>
<text x="751" y="612" transform="rotate(-90 751 612)">D32A</text>
</g>
<g stroke-width="1.3" fill="none">
<line x1="418" y1="648.5" x2="774" y2="648.5" stroke="#666" stroke-dasharray="1.2 1"/>
<line x1="418" y1="651.5" x2="477" y2="651.5" stroke="#1ba9e0" stroke-dasharray="1.5 0.8" stroke-width="2"/>
<line x1="478" y1="651.5" x2="536" y2="651.5" stroke="#1a1a1a" stroke-dasharray="1.5 0.8" stroke-width="2"/>
<line x1="537" y1="651.5" x2="596" y2="651.5" stroke="#e8252e" stroke-dasharray="1.5 0.8" stroke-width="2"/>
<line x1="597" y1="651.5" x2="655" y2="651.5" stroke="#c8c8c8" stroke-dasharray="1.5 0.8" stroke-width="2"/>
<line x1="656" y1="651.5" x2="714" y2="651.5" stroke="#8bc34a" stroke-dasharray="1.5 0.8" stroke-width="2"/>
<line x1="715" y1="651.5" x2="774" y2="651.5" stroke="#e8a5a5" stroke-dasharray="1.5 0.8" stroke-width="2"/>
<line x1="418" y1="654.8" x2="774" y2="654.8" stroke="#777" stroke-dasharray="1.2 1"/>
</g>
<text x="595" y="672" font-size="10" text-anchor="middle">Base substitution motifs</text>
</svg>
</body></html>
